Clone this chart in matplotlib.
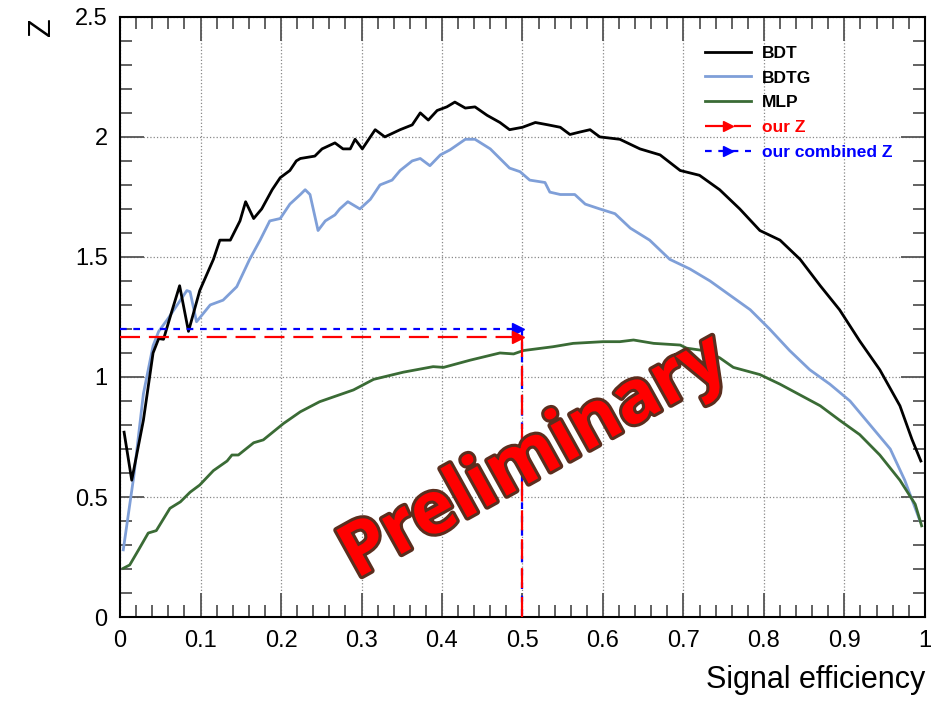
"""Significance Z versus signal efficiency for the three classifiers."""
import matplotlib
matplotlib.use('Agg')
import matplotlib.pyplot as plt
import matplotlib.patheffects as pe
from matplotlib.lines import Line2D
from matplotlib.ticker import MultipleLocator

plt.rcParams['font.family'] = ['Liberation Sans', 'DejaVu Sans']

# ── Curves (signal efficiency, Z) ──────────────────────────────────────────
bdt_eff = [0.005, 0.0145, 0.029, 0.041, 0.048, 0.054, 0.064, 0.074, 0.085,
           0.099, 0.116, 0.124, 0.137, 0.149, 0.156, 0.166, 0.176, 0.189,
           0.199, 0.211, 0.219, 0.224, 0.242, 0.251, 0.267, 0.277, 0.286,
           0.292, 0.301, 0.317, 0.329, 0.348, 0.363, 0.373, 0.383, 0.394,
           0.406, 0.416, 0.429, 0.441, 0.456, 0.472, 0.484, 0.5, 0.516,
           0.532, 0.547, 0.559, 0.571, 0.584, 0.596, 0.621, 0.646, 0.671,
           0.696, 0.72, 0.745, 0.77, 0.795, 0.82, 0.845, 0.87, 0.894, 0.919,
           0.944, 0.969, 0.984, 0.995]
bdt_z = [0.77, 0.57, 0.82, 1.10, 1.16, 1.157, 1.27, 1.38, 1.19, 1.36, 1.49,
         1.57, 1.57, 1.65, 1.73, 1.66, 1.70, 1.78, 1.83, 1.86, 1.90, 1.91,
         1.92, 1.95, 1.975, 1.95, 1.95, 1.99, 1.95, 2.03, 2.0, 2.03, 2.05,
         2.10, 2.07, 2.11, 2.125, 2.145, 2.12, 2.125, 2.09, 2.06, 2.03, 2.04,
         2.06, 2.05, 2.04, 2.01, 2.02, 2.03, 2.0, 1.99, 1.95, 1.925, 1.86,
         1.84, 1.78, 1.70, 1.61, 1.57, 1.49, 1.38, 1.28, 1.15, 1.03, 0.88,
         0.74, 0.65]

bdtg_eff = [0.004, 0.017, 0.029, 0.041, 0.048, 0.06, 0.083, 0.087, 0.095,
            0.112, 0.128, 0.145, 0.161, 0.174, 0.186, 0.199, 0.211, 0.224,
            0.23, 0.236, 0.246, 0.255, 0.267, 0.273, 0.283, 0.298, 0.311,
            0.323, 0.338, 0.348, 0.363, 0.373, 0.385, 0.398, 0.41, 0.429,
            0.441, 0.46, 0.472, 0.484, 0.497, 0.509, 0.528, 0.534, 0.547,
            0.565, 0.578, 0.596, 0.615, 0.634, 0.658, 0.683, 0.708, 0.733,
            0.758, 0.783, 0.807, 0.832, 0.857, 0.882, 0.907, 0.932, 0.957,
            0.975, 0.994]
bdtg_z = [0.28, 0.585, 0.93, 1.13, 1.19, 1.245, 1.36, 1.355, 1.23, 1.30,
          1.32, 1.376, 1.49, 1.57, 1.65, 1.66, 1.72, 1.76, 1.78, 1.76, 1.61,
          1.65, 1.675, 1.70, 1.73, 1.70, 1.74, 1.80, 1.82, 1.86, 1.90, 1.91,
          1.88, 1.925, 1.946, 1.99, 1.99, 1.95, 1.91, 1.87, 1.855, 1.82, 1.81,
          1.77, 1.76, 1.76, 1.72, 1.70, 1.68, 1.62, 1.57, 1.49, 1.45, 1.40,
          1.34, 1.28, 1.20, 1.11, 1.03, 0.97, 0.90, 0.80, 0.70, 0.57, 0.40]

mlp_eff = [0.004, 0.012, 0.023, 0.035, 0.045, 0.062, 0.075, 0.087, 0.099,
           0.116, 0.133, 0.139, 0.147, 0.166, 0.178, 0.203, 0.224, 0.248,
           0.29, 0.315, 0.352, 0.389, 0.402, 0.435, 0.472, 0.489, 0.501,
           0.538, 0.563, 0.60, 0.621, 0.638, 0.663, 0.696, 0.704, 0.725,
           0.745, 0.762, 0.795, 0.82, 0.845, 0.87, 0.894, 0.919, 0.944,
           0.969, 0.988, 0.996]
mlp_z = [0.203, 0.217, 0.28, 0.35, 0.36, 0.453, 0.48, 0.52, 0.55, 0.61,
         0.65, 0.675, 0.675, 0.726, 0.738, 0.806, 0.855, 0.897, 0.946, 0.99,
         1.02, 1.043, 1.04, 1.07, 1.10, 1.096, 1.11, 1.126, 1.14, 1.147,
         1.147, 1.154, 1.14, 1.133, 1.12, 1.11, 1.08, 1.04, 1.01, 0.97, 0.925,
         0.88, 0.82, 0.76, 0.675, 0.57, 0.47, 0.38]

# working point
work_eff = 0.5
our_z = 1.167
combined_z = 1.2

x_ticks = [0, 0.1, 0.2, 0.3, 0.4, 0.5, 0.6, 0.7, 0.8, 0.9, 1]
x_tick_labels = ['0', '0.1', '0.2', '0.3', '0.4', '0.5', '0.6', '0.7',
                 '0.8', '0.9', '1']
y_ticks = [0, 0.5, 1, 1.5, 2, 2.5]
y_tick_labels = ['0', '0.5', '1', '1.5', '2', '2.5']

C_BDT = 'black'
C_BDTG = '#7f9fd8'
C_MLP = '#3a6b35'
RED_DASH = (0, (9, 4))
BLUE_DASH = (0, (3, 3))

fig = plt.figure(figsize=(9.38, 7.02), dpi=100)
ax = fig.add_axes([0.128, 0.121, 0.858, 0.855])

ax.plot(bdt_eff, bdt_z, color=C_BDT, lw=2, zorder=4)
ax.plot(bdtg_eff, bdtg_z, color=C_BDTG, lw=2, zorder=3)
ax.plot(mlp_eff, mlp_z, color=C_MLP, lw=2, zorder=3)

# working-point markers: horizontal with arrow head, then drop to the axis
ax.plot([0, work_eff], [combined_z, combined_z], color='blue', lw=1.6,
        ls=BLUE_DASH, zorder=5)
ax.plot([work_eff, work_eff], [combined_z, 0], color='blue', lw=1.6,
        ls=BLUE_DASH, zorder=5)
ax.plot([work_eff - 0.006], [combined_z], marker='>', color='blue', ms=8,
        zorder=6)
ax.plot([0, work_eff], [our_z, our_z], color='red', lw=1.6, ls=RED_DASH,
        zorder=5)
ax.plot([work_eff, work_eff], [our_z, 0], color='red', lw=1.6, ls=RED_DASH,
        zorder=5)
ax.plot([work_eff - 0.006], [our_z], marker='>', color='red', ms=8, zorder=6)

# ── Axes in ROOT style ─────────────────────────────────────────────────────
ax.set_xlim(0, 1)
ax.set_ylim(0, 2.5)
ax.set_xticks(x_ticks, x_tick_labels)
ax.set_yticks(y_ticks, y_tick_labels)
ax.xaxis.set_minor_locator(MultipleLocator(0.02))
ax.yaxis.set_minor_locator(MultipleLocator(0.1))
ax.tick_params(which='both', direction='in', top=True, right=True,
               color='#555555', width=1.3, labelsize=17, pad=9)
ax.tick_params(which='major', length=17)
ax.tick_params(which='minor', length=8.5)
for sp in ax.spines.values():
    sp.set_linewidth(1.5)
ax.grid(True, which='major', ls=':', color='#888888', lw=0.9)
ax.set_axisbelow(True)

ax.set_xlabel('Signal efficiency', fontsize=22, ha='right', x=1.0,
              labelpad=10)
fig.text(0.045, 0.975, 'Z', fontsize=22, rotation=90, ha='center', va='top')

# ── Legend ─────────────────────────────────────────────────────────────────
handles = [
    Line2D([], [], color=C_BDT, lw=2),
    Line2D([], [], color=C_BDTG, lw=2),
    Line2D([], [], color=C_MLP, lw=2),
    Line2D([], [], color='red', lw=1.6, ls=RED_DASH, marker='>', ms=7),
    Line2D([], [], color='blue', lw=1.6, ls=BLUE_DASH, marker='>', ms=7),
]
labels = ['BDT', 'BDTG', 'MLP', 'our Z', 'our combined Z']
leg = ax.legend(handles, labels, loc='upper left',
                bbox_to_anchor=(0.708, 0.978), frameon=False,
                prop={'size': 12.5, 'weight': 'bold'}, handlelength=2.6,
                handletextpad=0.65, labelspacing=0.55, numpoints=1,
                labelcolor=['black', 'black', 'black', 'red', 'blue'])

# ── Watermark ──────────────────────────────────────────────────────────────
ax.text(0.515, 0.66, 'Preliminary', transform=ax.transData, fontsize=53,
        fontweight='bold', family='Open Sans', color='#ff0000',
        rotation=29, ha='center', va='center', zorder=7,
        path_effects=[pe.Stroke(linewidth=4.5, foreground='#5a2e1e'),
                      pe.Normal()])

fig.savefig('out.png', dpi=100, facecolor='white')
